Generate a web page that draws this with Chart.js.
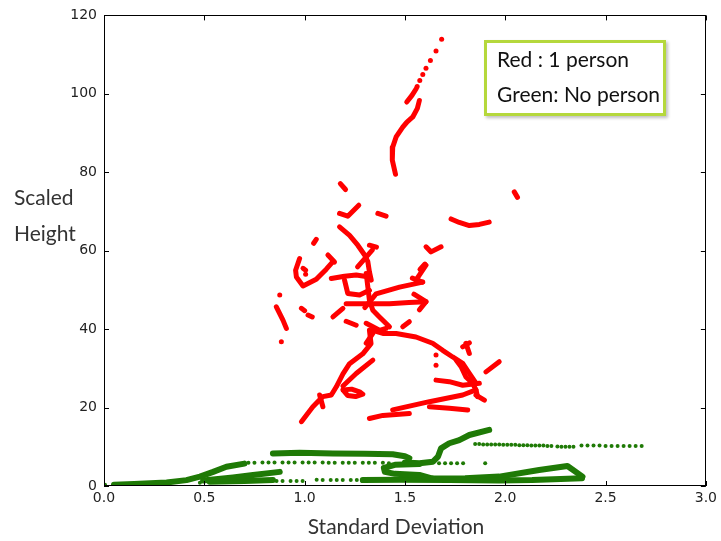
<!DOCTYPE html>
<html>
<head>
<meta charset="utf-8">
<script src="https://cdn.jsdelivr.net/npm/chart.js@4"></script>
<style>
  body { margin: 0; background: #fff; }
  #wrap { position: relative; width: 721px; height: 541px; }
  .txt { position: absolute; font-family: Lato, sans-serif; white-space: nowrap; }
  #ylab { left: 14px; top: 179px; font-size: 21px; line-height: 36px; color: #333; }
  #xlab { left: 0; width: 792px; top: 513px; font-size: 21px; text-align: center; color: #333; }
  #note { left: 484px; top: 40px; width: 176px; height: 70px; border: 3px solid #b5d83c;
          box-shadow: 2px 2px 3px rgba(0,0,0,0.25); background: #fff; }
  #note div { position: absolute; left: 10px; font-size: 21px; color: #111; }
</style>
</head>
<body>
<div id="wrap">
  <canvas id="chart" width="721" height="541"></canvas>
  <div class="txt" id="ylab">Scaled<br>Height</div>
  <div class="txt" id="xlab">Standard Deviation</div>
  <div class="txt" id="note">
    <div style="top:3px">Red : 1 person</div>
    <div style="top:38px">Green: No person</div>
  </div>
</div>
<script>
const xTicks = [0, 0.5, 1.0, 1.5, 2.0, 2.5, 3.0];
const yTicks = [0, 20, 40, 60, 80, 100, 120];

// red traces, each a run of close points
const redStrokes = [
  [[1.556,101.3],[1.535,99.6],[1.509,97.9]],
  [[1.572,98.3],[1.562,96.3],[1.539,94.1],[1.510,92.8],[1.489,91.5],[1.456,89.0],[1.439,86.4],[1.437,83.1],[1.453,79.5]],
  [[1.178,77.1],[1.204,75.6]],
  [[1.174,69.5],[1.215,68.8],[1.270,71.6]],
  [[1.365,69.5],[1.406,68.8]],
  [[1.730,68.1],[1.771,67.2],[1.821,66.4],[1.871,66.7],[1.920,67.3]],
  [[2.045,75.0],[2.061,73.6]],
  [[1.174,66.1],[1.224,63.9],[1.265,61.4],[1.299,58.9],[1.315,57.2],[1.323,54.6],[1.332,52.5]],
  [[1.264,55.9],[1.338,60.2]],
  [[1.323,61.4],[1.358,60.9]],
  [[1.045,61.9],[1.058,62.9]],
  [[0.975,58.0],[0.955,55.0],[0.959,53.3],[0.992,51.0],[1.058,52.7],[1.108,55.3],[1.141,57.2]],
  [[0.992,55.5],[1.005,55.0]],
  [[1.116,58.9],[1.149,57.1]],
  [[0.859,45.7],[0.892,42.3],[0.909,40.2]],
  [[0.984,45.3],[1.000,44.7]],
  [[1.017,43.6],[1.038,43.1]],
  [[1.133,52.9],[1.199,53.5],[1.257,53.8],[1.323,53.3]],
  [[1.207,46.5],[1.320,46.5],[1.423,46.5],[1.520,46.8],[1.605,47.0]],
  [[1.300,45.5],[1.356,49.0],[1.473,50.7],[1.589,52.0]],
  [[1.537,53.0],[1.587,52.0]],
  [[1.545,48.9],[1.605,47.0],[1.572,44.9]],
  [[1.307,54.2],[1.315,50.8],[1.323,47.4],[1.340,44.8],[1.373,43.1],[1.423,40.6]],
  [[1.199,52.5],[1.215,49.1],[1.274,48.7],[1.323,49.9]],
  [[1.141,43.1],[1.191,45.3]],
  [[1.207,42.0],[1.257,41.0]],
  [[1.307,41.5],[1.373,39.7],[1.406,40.2]],
  [[1.307,36.4],[1.340,38.9]],
  [[1.489,40.6],[1.522,41.9]],
  [[1.605,61.0],[1.630,59.7],[1.680,61.0]],
  [[1.575,55.2],[1.600,56.6]],
  [[1.555,52.5],[1.605,56.3]],
  [[1.788,35.5],[1.821,36.5]],
  [[1.340,39.7],[1.390,38.9],[1.456,38.9],[1.555,38.0],[1.638,36.4],[1.688,34.6],[1.738,32.9],[1.788,31.3],[1.821,28.7],[1.854,26.2]],
  [[1.323,39.7],[1.331,36.3],[1.290,33.7],[1.224,31.2],[1.191,28.6],[1.158,25.3],[1.133,23.2],[1.091,22.8],[1.041,20.2],[0.984,16.4]],
  [[1.340,32.1],[1.257,28.7],[1.191,25.5]],
  [[1.191,24.5],[1.234,24.7],[1.274,24.0],[1.290,23.4],[1.254,22.8],[1.214,23.1],[1.191,24.5]],
  [[1.075,23.2],[1.091,20.2]],
  [[1.323,17.2],[1.390,18.0],[1.522,18.5]],
  [[1.439,19.4],[1.622,21.5],[1.788,23.2],[1.854,24.5]],
  [[1.804,36.4],[1.821,33.8]],
  [[1.755,32.1],[1.780,30.4],[1.804,27.8],[1.837,26.2],[1.854,24.5],[1.862,22.8]],
  [[1.655,27.0],[1.721,26.6],[1.788,25.7],[1.871,26.2]],
  [[1.970,31.7],[1.904,29.1]],
  [[1.622,20.2],[1.721,19.8],[1.813,19.4]],
  [[1.854,23.2],[1.896,21.9]]
];

const redDots = [
  [1.683,113.9],[1.655,110.9],[1.627,108.5],[1.605,106.5],[1.589,104.9],[1.574,103.4],[1.561,101.9],
  [0.876,48.7],[0.884,36.8],[1.655,33.4],[1.655,30.8],[1.005,54.0]
];

const greenStrokes = [
  [[0.05,0.3],[0.15,0.5],[0.312,0.9],[0.411,1.5],[0.478,2.4],[0.544,3.6],[0.610,4.9],[0.70,5.7]],
  [[0.842,8.3],[0.975,8.5],[1.141,8.3],[1.30,8.2],[1.439,8.1],[1.50,7.6],[1.522,7.1]],
  [[1.572,5.6],[1.45,5.4],[1.395,4.6],[1.40,3.6],[1.45,3.1],[1.572,2.8],[1.638,1.9]],
  [[1.50,6.0],[1.572,5.8],[1.640,6.2],[1.665,7.5],[1.680,9.6],[1.721,10.9],[1.771,11.7],[1.821,13.0],[1.920,14.3]],
  [[0.494,1.4],[0.643,2.2],[0.743,2.8],[0.876,3.6]],
  [[0.527,1.1],[0.70,1.3],[0.842,1.5]],
  [[1.29,1.5],[1.473,1.6],[1.721,1.5],[1.970,1.4],[2.134,1.5],[2.383,2.0]],
  [[1.638,1.9],[1.80,2.0],[1.970,2.4],[2.169,4.1],[2.310,5.1],[2.385,2.4]]
];

const greenDots = [
  [0.72,5.9],[0.75,5.9],[0.79,6.0],[0.82,6.0],[0.85,6.0],[0.89,6.0],[0.92,6.0],[0.95,6.0],[0.99,6.0],[1.02,6.0],
  [1.05,6.0],[1.09,6.0],[1.12,5.9],[1.15,5.9],[1.19,5.9],[1.22,5.9],[1.25,5.9],[1.29,5.9],[1.32,5.9],[1.35,5.9],
  [1.39,5.9],[1.42,5.8],
  [0.86,1.3],[0.89,1.3],[0.93,1.3],[0.96,1.3],[0.99,1.3],[1.06,1.6],[1.09,1.5],[1.13,1.5],[1.16,1.5],[1.19,1.5],
  [1.23,1.5],[1.26,1.5],
  [0.005,0.3],[0.045,0.2],[0.478,0.8],
  [1.85,10.7],[1.87,10.7],[1.89,10.6],[1.91,10.6],[1.93,10.6],[1.95,10.6],[1.97,10.6],[1.99,10.5],[2.01,10.5],
  [2.03,10.5],[2.05,10.5],[2.07,10.4],[2.09,10.4],[2.11,10.4],[2.13,10.3],[2.15,10.3],[2.17,10.3],[2.19,10.3],
  [2.21,10.2],[2.23,10.2],[2.26,10.1],[2.28,10.0],[2.30,10.0],[2.32,10.0],[2.34,10.0],[2.38,10.3],[2.41,10.3],
  [2.44,10.3],[2.47,10.3],[2.50,10.2],[2.53,10.2],[2.56,10.2],[2.59,10.2],[2.62,10.2],[2.65,10.2],[2.68,10.2],
  [1.67,5.8],[1.70,5.8],[1.73,5.8],[1.76,5.8],[1.79,5.8],[1.90,5.8]
];

const RED = '#ff0000';
const GREEN = '#1f7a06';

function toXY(pts) {
    return pts.map(p => ({ x: p[0], y: p[1] }));
}

function strokeSet(pts, color, width) {
    return {
        data: toXY(pts),
        showLine: true,
        borderColor: color,
        borderWidth: width,
        borderCapStyle: 'round',
        borderJoinStyle: 'round',
        pointRadius: 0,
        fill: false
    };
}

function dotSet(pts, color, r) {
    return {
        data: toXY(pts),
        showLine: false,
        pointRadius: r,
        pointBackgroundColor: color,
        pointBorderWidth: 0
    };
}

const datasets = [
    ...greenStrokes.map(s => strokeSet(s, GREEN, 6)),
    dotSet(greenDots, GREEN, 2),
    ...redStrokes.map(s => strokeSet(s, RED, 5)),
    dotSet(redDots, RED, 2.5)
];

// matplotlib style frame: box with inward ticks on every side
const frameTicks = {
    id: 'frameTicks',
    afterDraw(chart) {
        const { ctx, chartArea: a, scales: { x, y } } = chart;
        ctx.save();
        ctx.strokeStyle = '#000';
        ctx.lineWidth = 1;
        ctx.beginPath();
        xTicks.forEach(v => {
            const px = Math.round(x.getPixelForValue(v)) + 0.5;
            ctx.moveTo(px, a.bottom); ctx.lineTo(px, a.bottom - 5);
            ctx.moveTo(px, a.top); ctx.lineTo(px, a.top + 5);
        });
        yTicks.forEach(v => {
            const py = Math.round(y.getPixelForValue(v)) + 0.5;
            ctx.moveTo(a.left, py); ctx.lineTo(a.left + 5, py);
            ctx.moveTo(a.right, py); ctx.lineTo(a.right - 5, py);
        });
        ctx.stroke();
        ctx.strokeRect(Math.round(a.left) + 0.5, Math.round(a.top) + 0.5,
            Math.round(a.right - a.left) - 1, Math.round(a.bottom - a.top) - 1);
        ctx.restore();
    }
};

const tickFont = { family: 'DejaVu Sans', size: 14 };

new Chart(document.getElementById('chart').getContext('2d'), {
    type: 'scatter',
    data: { datasets: datasets },
    options: {
        responsive: false,
        animation: false,
        layout: { padding: { top: 15, right: 14, left: 0, bottom: 0 } },
        plugins: { legend: { display: false }, tooltip: { enabled: false } },
        scales: {
            x: {
                type: 'linear', min: 0, max: 3,
                afterFit: s => { s.height = 55; },
                grid: { display: false, drawTicks: false },
                border: { display: false },
                afterBuildTicks: s => { s.ticks = xTicks.map(v => ({ value: v })); },
                ticks: { padding: 4, color: '#222', font: tickFont, maxRotation: 0, autoSkip: false,
                         callback: v => v.toFixed(1) }
            },
            y: {
                type: 'linear', min: 0, max: 120,
                afterFit: s => { s.width = 104; },
                grid: { display: false, drawTicks: false },
                border: { display: false },
                afterBuildTicks: s => { s.ticks = yTicks.map(v => ({ value: v })); },
                ticks: { padding: 7, color: '#222', font: tickFont }
            }
        }
    },
    plugins: [frameTicks]
});
</script>
</body>
</html>
